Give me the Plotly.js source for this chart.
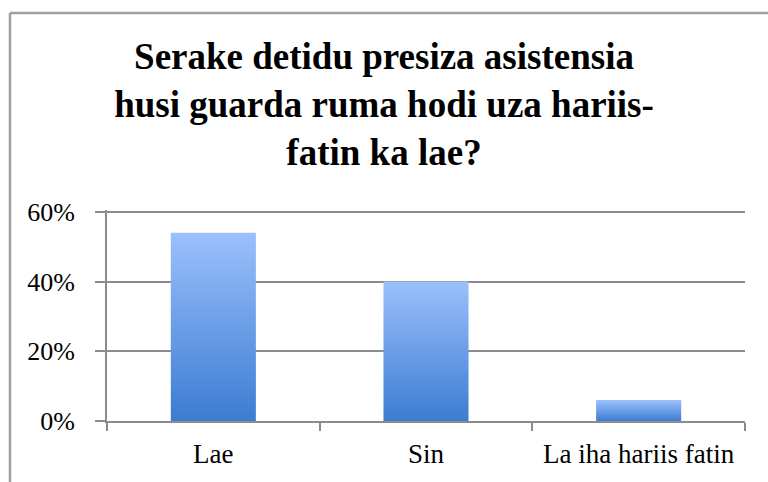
<!DOCTYPE html>
<html>
<head>
<meta charset="utf-8">
<script src="https://cdn.plot.ly/plotly-3.0.1.min.js"></script>
<style>
html,body{margin:0;padding:0;background:#fff;}
#chart{width:768px;height:482px;}
</style>
</head>
<body>
<div id="chart"></div>
<script>
const categories = ["Lae", "Sin", "La iha hariis fatin"];
const values = [0.54, 0.40, 0.06];
const yTickVals = [0, 0.2, 0.4, 0.6];
const yTickText = ["0%", "20%", "40%", "60%"];
const titleText = "Serake detidu presiza asistensia<br>husi guarda ruma hodi uza hariis-<br>fatin ka lae?";

const serif = "Liberation Serif, DejaVu Serif, serif";

const trace = {
  type: "bar",
  x: categories,
  y: values,
  marker: {color: "#6a9fe6", line: {width: 0}},
  hoverinfo: "none"
};

const layout = {
  width: 768,
  height: 482,
  margin: {l: 107, r: 23, t: 210, b: 61},
  paper_bgcolor: "#ffffff",
  plot_bgcolor: "#ffffff",
  bargap: 0.6,
  showlegend: false,
  title: {
    text: "<b>" + titleText + "</b>",
    font: {family: serif, size: 37, color: "#000"},
    x: 0.5, xanchor: "center",
    yref: "container",
    y: 0.857, yanchor: "top"
  },
  xaxis: {
    showgrid: false,
    showline: true, linecolor: "#8c8c8c", linewidth: 2,
    ticks: "outside", ticklen: 8, tickcolor: "#8c8c8c", tickwidth: 2,
    tickson: "boundaries",
    ticklabelstandoff: 8,
    tickfont: {family: serif, size: 27, color: "#000"},
    fixedrange: true
  },
  yaxis: {
    range: [0, 0.605],
    tickvals: yTickVals,
    ticktext: yTickText,
    showgrid: true, gridcolor: "#8c8c8c", gridwidth: 2,
    showline: true, linecolor: "#8c8c8c", linewidth: 2,
    ticks: "outside", ticklen: 10, tickcolor: "#8c8c8c", tickwidth: 2,
    ticklabelstandoff: 15,
    tickfont: {family: serif, size: 26, color: "#000"},
    zeroline: false,
    fixedrange: true
  },
  shapes: [
    {type: "line", xref: "paper", yref: "paper",
     x0: (10 - 107) / 638, x1: 2, y0: (421 - 13) / 211, y1: (421 - 13) / 211,
     line: {color: "#a0a0a0", width: 2.5}},
    {type: "line", xref: "paper", yref: "paper",
     x0: (10 - 107) / 638, x1: (10 - 107) / 638, y0: (421 - 13) / 211, y1: -2,
     line: {color: "#a0a0a0", width: 2.5}}
  ]
};

Plotly.newPlot("chart", [trace], layout, {staticPlot: true, displayModeBar: false}).then(function (gd) {
  const svg = gd.querySelector("svg.main-svg");
  const ns = "http://www.w3.org/2000/svg";
  let defs = svg.querySelector("defs");
  if (!defs) { defs = document.createElementNS(ns, "defs"); svg.insertBefore(defs, svg.firstChild); }
  const grad = document.createElementNS(ns, "linearGradient");
  grad.setAttribute("id", "barGrad");
  grad.setAttribute("x1", "0"); grad.setAttribute("y1", "0");
  grad.setAttribute("x2", "0"); grad.setAttribute("y2", "1");
  [["0%", "#9bc0fc"], ["100%", "#3c7cd2"]].forEach(function (s) {
    const st = document.createElementNS(ns, "stop");
    st.setAttribute("offset", s[0]);
    st.setAttribute("stop-color", s[1]);
    grad.appendChild(st);
  });
  defs.appendChild(grad);
  gd.querySelectorAll(".bars .point path").forEach(function (p) {
    p.style.fill = "url(#barGrad)";
  });
});
</script>
</body>
</html>
